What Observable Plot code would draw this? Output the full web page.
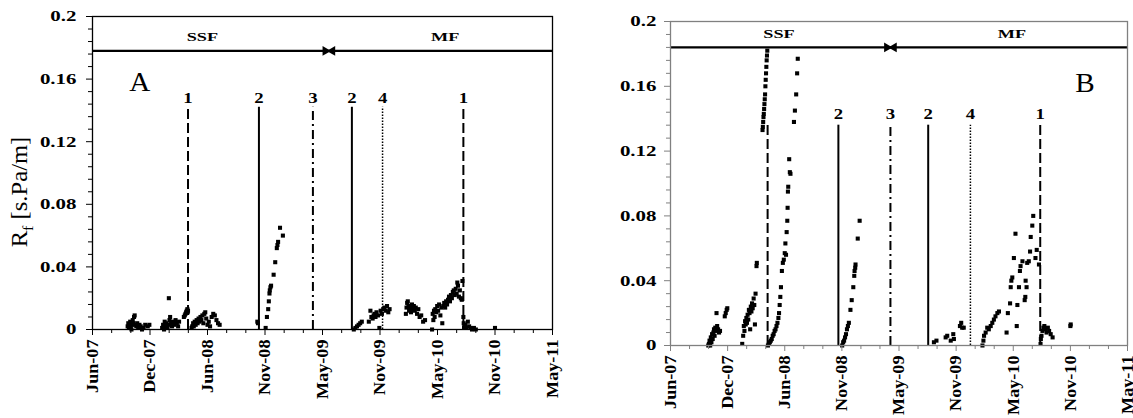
<!DOCTYPE html>
<html>
<head>
<meta charset="utf-8">
<script src="https://cdn.jsdelivr.net/npm/d3@7"></script>
<script src="https://cdn.jsdelivr.net/npm/@observablehq/plot@0.6"></script>
<style>
  html, body { margin: 0; padding: 0; background: #fff; }
  #wrap { position: relative; width: 1133px; height: 418px; overflow: hidden; font-family: "Liberation Serif", "Times New Roman", serif; }
  .pane { position: absolute; top: 0; }
  #ytitle { position: absolute; left: 22px; top: 192px; transform: translate(-50%, -50%) rotate(-90deg) scale(1.07, 1); font-size: 23px; white-space: nowrap; color: #000; line-height: 1; }
  #ytitle sub { font-size: 15px; }
</style>
</head>
<body>
<div id="wrap">
  <div id="paneA" class="pane" style="left:0px"></div>
  <div id="paneB" class="pane" style="left:560px"></div>
  <div id="ytitle">R<sub>f</sub> [s.Pa/m]</div>
</div>
<script>
// ---------- axis ticks ----------
const xTickDates  = ["2007-06-08","2007-12-05","2008-06-02","2008-11-29","2009-05-28","2009-11-24","2010-05-23","2010-11-19","2011-05-18"];
const xTickLabels = ["Jun-07","Dec-07","Jun-08","Nov-08","May-09","Nov-09","May-10","Nov-10","May-11"];
const yTicks      = [0, 0.04, 0.08, 0.12, 0.16, 0.2];
const yTickLabels = ["0","0.04","0.08","0.12","0.16","0.2"];

// ---------- event lines ----------
const eventLabels = ["1","2","3","2","4","1"];
const eventStyles = ["dash","solid","dashdot","solid","dot","dash"];
const eventsA = ["2008-04-02","2008-11-10","2009-04-28","2009-08-28","2009-12-02","2010-08-12"];
const eventsB = ["2008-04-09","2008-11-18","2009-05-01","2009-08-28","2010-01-08","2010-08-16"];

// ---------- panel A data: [date, Rf] ----------
const panelA = [
 ["2007-09-26",0.002],["2007-09-28",0.004],["2007-09-30",0.001],["2007-10-02",0.003],["2007-10-04",0.005],
 ["2007-10-06",0.002],["2007-10-08",0.000],["2007-10-10",0.003],["2007-10-12",0.006],["2007-10-14",0.004],
 ["2007-10-16",0.008],["2007-10-18",0.009],["2007-10-20",0.003],["2007-10-23",0.002],["2007-10-26",0.004],
 ["2007-10-29",0.001],["2007-11-02",0.003],["2007-11-06",0.002],["2007-11-10",0.000],["2007-11-15",0.001],
 ["2007-11-20",0.003],["2007-11-28",0.002],["2007-12-03",0.003],
 ["2008-01-12",0.001],["2008-01-15",0.003],["2008-01-18",0.000],["2008-01-20",0.005],["2008-01-23",0.002],
 ["2008-01-26",0.004],["2008-01-29",0.001],["2008-02-01",0.003],["2008-02-02",0.020],["2008-02-04",0.006],
 ["2008-02-06",0.008],["2008-02-09",0.004],["2008-02-12",0.002],["2008-02-15",0.005],["2008-02-19",0.003],
 ["2008-02-23",0.006],["2008-02-27",0.004],["2008-03-02",0.002],["2008-03-05",0.005],
 ["2008-03-20",0.008],["2008-03-23",0.009],["2008-03-25",0.010],["2008-03-27",0.011],["2008-03-29",0.012],
 ["2008-03-31",0.013],["2008-04-01",0.011],["2008-04-02",0.012],
 ["2008-04-13",0.001],["2008-04-15",0.002],["2008-04-18",0.004],["2008-04-20",0.002],["2008-04-23",0.005],
 ["2008-04-26",0.003],["2008-04-29",0.006],["2008-05-02",0.004],["2008-05-05",0.007],["2008-05-08",0.005],
 ["2008-05-11",0.008],["2008-05-14",0.006],["2008-05-17",0.009],["2008-05-20",0.004],["2008-05-23",0.010],
 ["2008-05-26",0.011],["2008-05-29",0.007],["2008-06-02",0.003],["2008-06-06",0.005],["2008-06-10",0.002],
 ["2008-06-15",0.008],["2008-06-20",0.010],["2008-06-25",0.009],["2008-06-30",0.006],["2008-07-05",0.004],
 ["2008-07-10",0.003],
 ["2008-11-05",0.005],["2008-11-07",0.004],["2008-12-01",0.001],["2008-12-05",0.008],["2008-12-09",0.013],
 ["2008-12-11",0.018],["2008-12-13",0.023],["2008-12-14",0.025],["2008-12-16",0.027],["2008-12-18",0.028],
 ["2008-12-26",0.035],["2008-12-31",0.043],["2009-01-05",0.052],["2009-01-07",0.054],["2009-01-09",0.056],
 ["2009-01-15",0.065],["2009-01-24",0.060],
 ["2009-09-03",0.000],["2009-09-08",0.001],["2009-09-13",0.002],["2009-09-18",0.003],["2009-09-23",0.004],
 ["2009-09-28",0.005],["2009-10-20",0.005],["2009-10-25",0.012],["2009-10-28",0.008],["2009-11-01",0.007],
 ["2009-11-04",0.009],["2009-11-07",0.010],["2009-11-10",0.008],["2009-11-13",0.011],["2009-11-18",0.009],
 ["2009-11-22",0.001],["2009-11-26",0.012],["2009-11-30",0.010],["2009-12-04",0.013],["2009-12-08",0.014],
 ["2009-12-12",0.012],["2009-12-16",0.015],["2009-12-20",0.011],["2009-12-24",0.013],
 ["2010-02-13",0.010],["2010-02-15",0.014],["2010-02-17",0.017],["2010-02-19",0.018],["2010-02-21",0.015],
 ["2010-02-23",0.012],["2010-02-26",0.014],["2010-03-01",0.011],["2010-03-04",0.016],["2010-03-07",0.013],
 ["2010-03-10",0.015],["2010-03-13",0.012],["2010-03-16",0.014],["2010-03-20",0.010],["2010-03-24",0.013],
 ["2010-03-28",0.008],["2010-04-02",0.009],["2010-04-08",0.005],["2010-04-14",0.006],
 ["2010-05-06",0.000],["2010-05-08",0.010],["2010-05-10",0.006],["2010-05-12",0.012],["2010-05-14",0.008],
 ["2010-05-16",0.013],["2010-05-19",0.011],["2010-05-22",0.015],["2010-05-25",0.012],["2010-05-28",0.016],
 ["2010-06-01",0.009],["2010-06-04",0.014],["2010-06-07",0.004],["2010-06-10",0.015],["2010-06-13",0.017],
 ["2010-06-16",0.014],["2010-06-19",0.018],["2010-06-22",0.016],["2010-06-25",0.019],["2010-06-28",0.021],
 ["2010-07-01",0.018],["2010-07-04",0.022],["2010-07-07",0.020],["2010-07-10",0.024],["2010-07-13",0.025],
 ["2010-07-16",0.022],["2010-07-19",0.026],["2010-07-22",0.023],["2010-07-24",0.030],["2010-07-26",0.028],
 ["2010-07-29",0.021],["2010-08-01",0.025],["2010-08-04",0.020],["2010-08-07",0.019],["2010-08-09",0.031],
 ["2010-08-12",0.008],["2010-08-13",0.004],["2010-08-14",0.001],["2010-08-16",0.002],["2010-08-18",0.003],
 ["2010-08-21",0.001],["2010-08-26",0.005],["2010-08-30",0.002],["2010-09-03",0.001],["2010-09-08",0.000],
 ["2010-09-14",0.001],["2010-09-20",0.000],["2010-11-19",0.001]
];

// ---------- panel B data: [date, Rf] ----------
const panelB = [
 ["2007-10-05",0.000],["2007-10-07",0.001],["2007-10-09",0.003],["2007-10-11",0.000],["2007-10-13",0.005],
 ["2007-10-15",0.002],["2007-10-17",0.007],["2007-10-19",0.004],["2007-10-21",0.008],["2007-10-23",0.010],
 ["2007-10-25",0.006],["2007-10-27",0.011],["2007-10-29",0.009],["2007-10-31",0.020],["2007-11-02",0.012],
 ["2007-11-05",0.010],["2007-11-08",0.008],["2007-11-11",0.009],["2007-11-26",0.018],["2007-11-29",0.020],
 ["2007-12-02",0.022],["2007-12-04",0.023],
 ["2008-01-20",0.001],["2008-01-23",0.006],["2008-01-25",0.012],["2008-01-27",0.009],["2008-01-29",0.015],
 ["2008-01-31",0.013],["2008-02-02",0.017],["2008-02-04",0.014],["2008-02-06",0.019],["2008-02-08",0.016],
 ["2008-02-10",0.022],["2008-02-12",0.020],["2008-02-14",0.010],["2008-02-16",0.024],["2008-02-18",0.021],
 ["2008-02-20",0.026],["2008-02-22",0.023],["2008-02-25",0.029],["2008-02-27",0.025],["2008-02-29",0.013],
 ["2008-03-02",0.032],["2008-03-05",0.049],["2008-03-06",0.051],
 ["2008-03-24",0.133],["2008-03-25",0.135],["2008-03-26",0.138],["2008-03-27",0.141],["2008-03-28",0.143],
 ["2008-03-29",0.146],["2008-03-30",0.149],["2008-03-31",0.152],["2008-04-01",0.155],["2008-04-02",0.160],
 ["2008-04-03",0.164],["2008-04-04",0.168],["2008-04-05",0.172],["2008-04-06",0.176],["2008-04-07",0.179],
 ["2008-04-08",0.182],
 ["2008-04-10",0.000],["2008-04-13",0.001],["2008-04-16",0.002],["2008-04-19",0.003],["2008-04-22",0.004],
 ["2008-04-25",0.006],["2008-04-28",0.007],["2008-05-01",0.009],["2008-05-04",0.010],["2008-05-07",0.012],
 ["2008-05-10",0.014],["2008-05-13",0.017],["2008-05-15",0.020],["2008-05-17",0.025],["2008-05-19",0.030],
 ["2008-05-21",0.036],["2008-05-24",0.046],["2008-05-27",0.051],["2008-05-30",0.053],["2008-06-02",0.057],
 ["2008-06-04",0.063],["2008-06-06",0.056],["2008-06-08",0.070],["2008-06-10",0.077],["2008-06-11",0.085],
 ["2008-06-12",0.095],["2008-06-13",0.098],["2008-06-16",0.115],["2008-06-18",0.107],["2008-06-20",0.106],
 ["2008-07-01",0.138],["2008-07-04",0.145],["2008-07-08",0.155],["2008-07-11",0.168],["2008-07-13",0.177],
 ["2008-11-30",0.000],["2008-12-03",0.002],["2008-12-06",0.003],["2008-12-09",0.005],["2008-12-12",0.007],
 ["2008-12-15",0.010],["2008-12-18",0.012],["2008-12-21",0.014],["2008-12-26",0.022],["2008-12-30",0.028],
 ["2009-01-04",0.036],["2009-01-07",0.043],["2009-01-08",0.046],["2009-01-10",0.048],["2009-01-11",0.050],
 ["2009-01-18",0.066],["2009-01-24",0.077],
 ["2009-09-15",0.002],["2009-09-23",0.003],["2009-10-22",0.005],["2009-10-27",0.006],["2009-11-07",0.003],
 ["2009-11-15",0.007],["2009-11-17",0.004],["2009-12-06",0.012],["2009-12-10",0.014],["2009-12-13",0.011],
 ["2009-12-18",0.011],
 ["2010-02-15",0.000],["2010-02-18",0.003],["2010-02-20",0.006],["2010-02-25",0.008],["2010-03-02",0.011],
 ["2010-03-07",0.010],["2010-03-13",0.012],["2010-03-18",0.014],["2010-03-23",0.016],["2010-03-28",0.018],
 ["2010-04-03",0.020],["2010-04-08",0.021],["2010-05-02",0.008],["2010-05-06",0.020],["2010-05-13",0.026],
 ["2010-05-15",0.036],["2010-05-17",0.040],["2010-05-20",0.042],["2010-05-25",0.054],["2010-05-30",0.069],
 ["2010-06-03",0.012],["2010-06-05",0.025],["2010-06-10",0.036],["2010-06-13",0.046],["2010-06-15",0.049],
 ["2010-06-21",0.052],["2010-06-28",0.028],["2010-06-30",0.030],["2010-07-01",0.040],["2010-07-04",0.036],
 ["2010-07-06",0.051],["2010-07-11",0.052],["2010-07-15",0.058],["2010-07-17",0.067],["2010-07-22",0.074],
 ["2010-07-25",0.080],["2010-08-01",0.054],["2010-08-05",0.059],["2010-08-12",0.050],
 ["2010-08-17",0.001],["2010-08-18",0.004],["2010-08-20",0.006],["2010-08-23",0.009],["2010-08-26",0.011],
 ["2010-08-29",0.012],["2010-09-01",0.010],["2010-09-05",0.008],["2010-09-09",0.011],["2010-09-13",0.009],
 ["2010-09-18",0.007],["2010-09-24",0.005],["2010-11-19",0.012],["2010-11-20",0.013]
];

// ---------- annotations ----------
const phaseLabels = ["SSF", "MF"];
const annA = { letter: "A", letterDate: "2007-11-03", letterY: 0.158, arrowY: 0.178, meet: "2009-06-17",
  phaseDates: ["2008-05-17","2010-06-16"], phaseY: 0.187, lineTop: 0.142, labelY: 0.148 };
const annB = { letter: "B", letterDate: "2011-01-04", letterY: 0.1616, arrowY: 0.184, meet: "2009-05-01",
  phaseDates: ["2008-05-15","2010-05-19"], phaseY: 0.1925, lineTop: 0.136, labelY: 0.1425 };

// ---------- drawing ----------
const parse = d3.utcParse("%Y-%m-%d");
const xStart = parse(xTickDates[0]);
const xEnd = parse(xTickDates[xTickDates.length - 1]);
const majorT = xTickDates.map(parse);
const minorX = d3.range(0, 1441, 60).filter(d => d % 180 !== 0).map(d => d3.utcDay.offset(xStart, d));
const minorY = d3.range(1, 25).filter(i => i % 5 !== 0).map(i => i * 0.008);
const dashes = { dash: "10,4", solid: null, dashdot: "9,4,2,4", dot: "1.5,1.5" };
const widths = { dash: 2, solid: 2, dashdot: 2, dot: 1.5 };

// widen text along its own direction (the reference type is set wide)
function stretchText(t, sx) {
  const tr = t.getAttribute("transform");
  if (tr) t.setAttribute("transform", tr + ` scale(${sx},1)`);
  else {
    const x = +(t.getAttribute("x") || 0), y = +(t.getAttribute("y") || 0);
    t.removeAttribute("x"); t.removeAttribute("y");
    t.setAttribute("transform", `translate(${x},${y}) scale(${sx},1)`);
  }
}
function stretchGroup(svg, label, sx) {
  svg.querySelectorAll(`g[aria-label="${label}"] text`).forEach(t => stretchText(t, sx));
}
function stretchByContent(svg, contents, sx) {
  svg.querySelectorAll("text").forEach(t => {
    if (t.closest('g[aria-label$="axis tick label"]')) return;
    if (contents.includes(t.textContent)) stretchText(t, sx);
  });
}

function panel(points, events, ann, opt) {
  const pts = points.map(([d, v]) => ({date: parse(d), v}));
  const ev = events.map((d, i) => ({date: parse(d), label: eventLabels[i], kind: eventStyles[i], i}));
  const meet = parse(ann.meet);
  const arrows = [{x1: xStart, x2: meet, y: ann.arrowY}, {x1: xEnd, x2: meet, y: ann.arrowY}];
  const phases = phaseLabels.map((t, i) => ({t, date: parse(ann.phaseDates[i])}));
  const axisColor = opt.axisColor;
  const marks = [];
  for (const kind of ["dash","solid","dashdot","dot"]) {
    marks.push(Plot.ruleX(ev.filter(e => e.kind === kind), {x: "date", y1: 0, y2: ann.lineTop,
      stroke: "black", strokeWidth: widths[kind], strokeDasharray: dashes[kind]}));
  }
  marks.push(Plot.text(ev.filter(e => !(opt.hideFirst && e.i === 0)), {x: "date", y: ann.labelY, text: "label",
    fontSize: 15, fontWeight: "bold", fill: "black"}));
  marks.push(Plot.ruleY(arrows, {y: "y", x1: "x1", x2: "x2", stroke: "black", strokeWidth: 2.2}));
  marks.push(Plot.dot([arrows[0]], {x: "x2", y: "y", symbol: "triangle", r: 3.6, rotate: 90, dx: -3.5, fill: "black", stroke: "none"}));
  marks.push(Plot.dot([arrows[1]], {x: "x2", y: "y", symbol: "triangle", r: 3.6, rotate: -90, dx: 3.5, fill: "black", stroke: "none"}));
  marks.push(Plot.text(phases, {x: "date", y: ann.phaseY, text: "t", fontSize: 13.5, fontWeight: "bold", fill: "black"}));
  marks.push(Plot.text([ann.letter], {x: parse(ann.letterDate), y: ann.letterY, text: d => d, fontSize: 27, fill: "black"}));
  marks.push(Plot.dot(pts, {x: "date", y: "v", symbol: "square", r: 2.3, fill: "black", stroke: "none"}));
  marks.push(Plot.frame({stroke: axisColor, strokeWidth: opt.frameWidth}));
  marks.push(Plot.axisY(yTicks, {tickSize: 6, tickPadding: opt.yPad, stroke: axisColor,
    tickFormat: d => yTickLabels[yTicks.indexOf(d)], fontSize: 15.5, fontWeight: "bold", fill: "black"}));
  marks.push(Plot.axisY(minorY, {tickSize: 4, stroke: axisColor, tickFormat: () => ""}));
  marks.push(Plot.axisX(majorT, {tickSize: 6, tickPadding: 4, stroke: axisColor, tickRotate: -90,
    tickFormat: d => xTickLabels[majorT.findIndex(t => +t === +d)], fontSize: 16.5, fontWeight: "bold", fill: "black"}));
  marks.push(Plot.axisX(minorX, {tickSize: 4, stroke: axisColor, tickFormat: () => ""}));

  const svg = Plot.plot({
    width: opt.width, height: 418,
    marginLeft: opt.ml, marginRight: opt.mr, marginTop: opt.mt, marginBottom: opt.mb,
    style: {fontFamily: "'Liberation Serif', 'Times New Roman', serif", background: "transparent", color: "black", overflow: "visible"},
    x: {type: "utc", domain: [xStart, xEnd]},
    y: {domain: [0, 0.2]},
    marks
  });
  stretchGroup(svg, "y-axis tick label", 1.35);
  stretchGroup(svg, "x-axis tick label", 1.1);
  stretchByContent(svg, phaseLabels, 1.35);
  stretchByContent(svg, eventLabels, 1.25);
  stretchByContent(svg, [ann.letter], 1.08);
  return svg;
}

document.getElementById("paneA").appendChild(panel(panelA, eventsA, annA,
  {width: 560, ml: 92, mr: 8, mt: 16, mb: 89, axisColor: "black", frameWidth: 1.3, yPad: 10}));
document.getElementById("paneB").appendChild(panel(panelB, eventsB, annB,
  {width: 573, ml: 110, mr: 6, mt: 21, mb: 73, axisColor: "#808080", frameWidth: 1.3, yPad: 8, hideFirst: true}));
</script>
</body>
</html>
